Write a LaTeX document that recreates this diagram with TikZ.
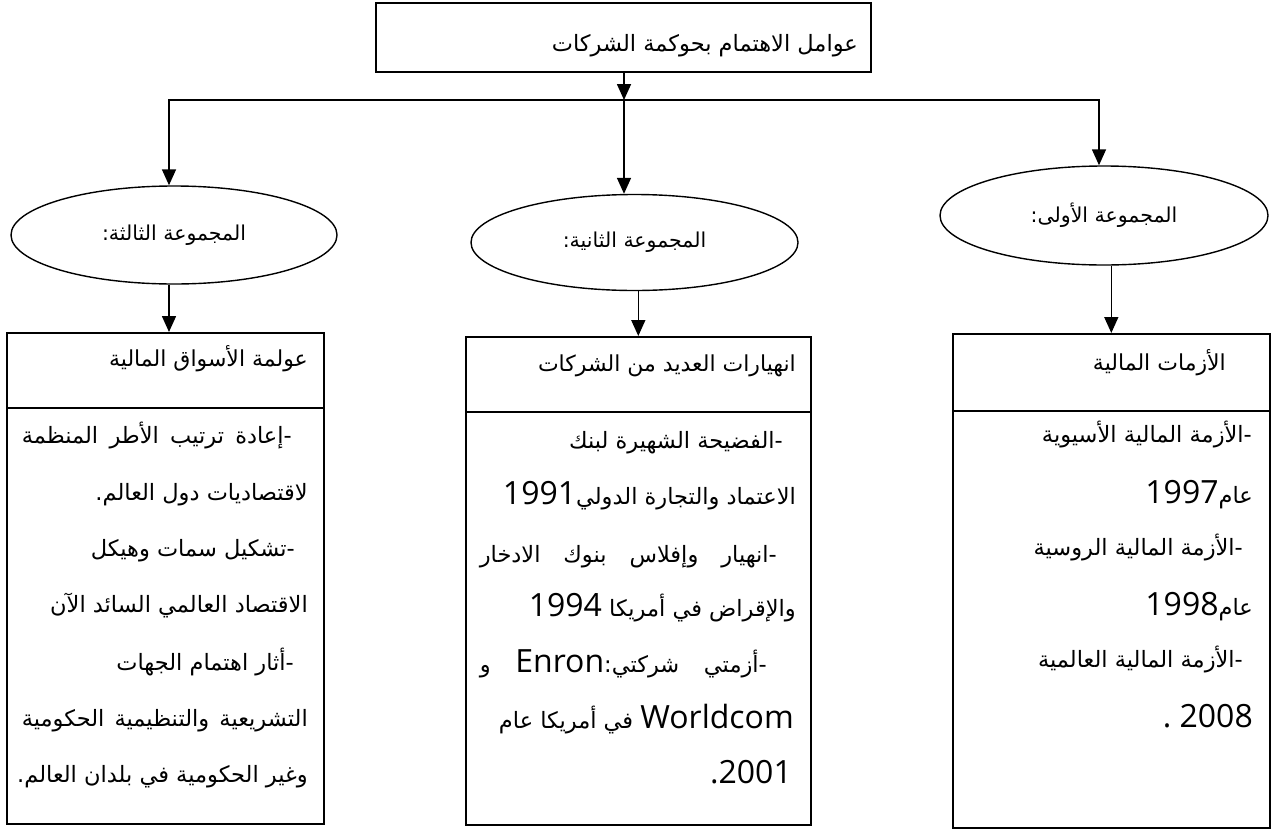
\documentclass[tikz,border=0pt]{standalone}
\usepackage{fontspec}
\usetikzlibrary{shapes.geometric,arrows.meta}
\TeXXeTstate=1
\newfontfamily\arabicfont[Script=Arabic]{DejaVu Sans}
\newfontfamily\latinfont{Open Sans}
% right-to-left line, and a left-to-right run of Latin text or digits inside it
\newcommand\AR[1]{\beginR #1\endR}
\newcommand\LT[1]{\beginL{\latinfont\fontsize{32}{38}\selectfont #1}\endL}
\newcommand\LTP[1]{{\latinfont\fontsize{32}{38}\selectfont #1}}
% a right-to-left line spread over a given width
\newcommand\spreadline[2]{\hbox to #1{\beginR #2\endR}}
\newcommand\dash{-\kern0pt}
\tikzset{
  frame/.style={draw, line width=1.6pt, rectangle, inner sep=0pt, anchor=north west},
  oval/.style={draw, line width=1.4pt, ellipse, inner sep=0pt,
    font=\arabicfont\fontsize{20.5}{24}\selectfont},
  arr/.style={line width=1.6pt, -{Triangle[length=16pt,width=14pt]}},
  wire/.style={line width=1.6pt},
  txt/.style={inner sep=0pt, anchor=base east,
    font=\arabicfont\fontsize{22.5}{26}\selectfont},
  head/.style={txt, font=\arabicfont\fontsize{22}{26}\selectfont},
}
\begin{document}
\begin{tikzpicture}[x=1pt,y=-1pt]
\useasboundingbox (0,0) rectangle (1271,830);
\fill[white] (0,0) rectangle (1271,830);

% heading box
\node[frame, minimum width=495pt, minimum height=69pt] (top) at (375,2) {};
\node[txt] (title) at (858,51) {\AR{عوامل الاهتمام بحوكمة الشركات}};

% branching points
\coordinate (hub) at (624,100);
\coordinate (lj) at (169,100);
\coordinate (rj) at (1099,100);

% the three groups
\node[oval, minimum width=326pt, minimum height=98pt] (g3) at (174,235) {\AR{المجموعة الثالثة\kern0pt:}};
\node[oval, minimum width=327pt, minimum height=96pt] (g2) at (634.5,242.5) {\AR{المجموعة الثانية\kern0pt:}};
\node[oval, minimum width=328pt, minimum height=99pt] (g1) at (1104,215.5) {\AR{المجموعة الأولى\kern0pt:}};

\draw[arr] (top.south -| hub) -- (hub);
\draw[arr] (hub) -| (lj |- g3.north);
\draw[arr] (hub) -| (rj |- g1.north);
\draw[arr] (hub) -- (hub |- g2.north);

% detail boxes
\node[frame, minimum width=317pt, minimum height=491pt] (b3) at (6,332) {};
\node[frame, minimum width=345pt, minimum height=488pt] (b2) at (465,336) {};
\node[frame, minimum width=317pt, minimum height=494pt] (b1) at (952,333) {};
\draw[wire] (b3.west |- 0,408) -- (b3.east |- 0,408);
\draw[wire] (b2.west |- 0,412) -- (b2.east |- 0,412);
\draw[wire] (b1.west |- 0,411) -- (b1.east |- 0,411);

\draw[arr] (lj |- g3.south) -- (lj |- b3.north);
\draw[arr] (b2.north |- g2.south) -- (b2.north);
\draw[arr] (b1.north |- g1.south) -- (b1.north);

% third group
\node[head] (h3) at (308,366) {\AR{عولمة الأسواق المالية}};
\node[txt] (l1) at (292,443) {\spreadline{270pt}{\dash إعادة\hfill ترتيب\hfill الأطر\hfill المنظمة}};
\node[txt] (l2) at (308,500) {\AR{لاقتصاديات دول العالم\kern0pt.}};
\node[txt] (l3) at (295,556) {\AR{\dash تشكيل سمات وهيكل}};
\node[txt] (l4) at (308,612) {\AR{الاقتصاد العالمي السائد الآن}};
\node[txt] (l5) at (294,670) {\AR{\dash أثار اهتمام الجهات}};
\node[txt] (l6) at (308,726) {\spreadline{286pt}{التشريعية\hfill والتنظيمية\hfill الحكومية}};
\node[txt] (l7) at (308,782) {\AR{وغير الحكومية في بلدان العالم\kern0pt.}};

% second group
\node[head] (h2) at (796,371) {\AR{انهيارات العديد من الشركات}};
\node[txt] (m1) at (783,448) {\AR{\dash الفضيحة الشهيرة لبنك}};
\node[txt] (m2) at (796,504) {\AR{الاعتماد والتجارة الدولي\LT{1991}}};
\node[txt] (m3) at (777,562) {\spreadline{297pt}{\dash انهيار\hfill وإفلاس\hfill بنوك\hfill الادخار}};
\node[txt] (m4) at (796,616) {\AR{والإقراض في أمريكا \LT{1994}}};
\node[txt] (m5) at (767,672) {\spreadline{287pt}{\dash أزمتي\hfill شركتي\kern0pt:\LT{Enron}\hfill و}};
\node[txt] (m6) at (794,728) {\AR{\LT{Worldcom} في أمريكا عام}};
\node[txt] (m7) at (792,783) {\AR{\LT{2001}\LTP{.}}};

% first group
\node[head] (h1) at (1226,370) {\AR{الأزمات المالية}};
\node[txt] (r1) at (1252,442) {\AR{\dash الأزمة المالية الأسيوية}};
\node[txt] (r2) at (1253,503) {\AR{عام\LT{1997}}};
\node[txt] (r3) at (1243,555) {\AR{\dash الأزمة المالية الروسية}};
\node[txt] (r4) at (1253,615) {\AR{عام\LT{1998}}};
\node[txt] (r5) at (1243,667) {\AR{\dash الأزمة المالية العالمية}};
\node[txt] (r6) at (1253,727) {\AR{\LT{2008}\LTP{\ .}}};
\end{tikzpicture}
\end{document}
